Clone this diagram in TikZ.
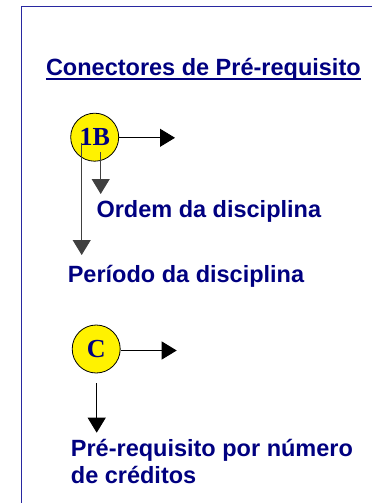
\documentclass[tikz,border=0pt]{standalone}
\usepackage{fontspec}
\usetikzlibrary{arrows.meta}
\newfontfamily\lsans{Liberation Sans}
\newfontfamily\lserif{Liberation Serif}
\definecolor{navytxt}{RGB}{0,0,128}
\definecolor{frameblue}{RGB}{40,40,160}
\tikzset{
  lbl/.style={anchor=base west, inner sep=0pt, text=navytxt,
    font=\lsans\bfseries\fontsize{23.5}{26.7}\selectfont, align=left},
  conn/.style={fill=yellow, circle, draw=black, line width=0.8pt,
    minimum size=48pt, inner sep=0pt, text=navytxt,
    font=\lserif\bfseries\fontsize{26}{26}\selectfont},
  arr/.style={line width=0.9pt, -{Triangle[length=15pt,width=18pt]}},
}
\begin{document}
\begin{tikzpicture}[x=1pt,y=-1pt]
\useasboundingbox (0,0) rectangle (372,503);
% frame
\draw[frameblue, line width=1.5pt] (372,6.5) -- (21.5,6.5) -- (21.5,503);
% title
\node[lbl] (title) at (45.8,75.7) {Conectores de Pré-requisito};
\draw[navytxt, line width=1.5pt] ([yshift=-3.4pt]title.base west) -- ([yshift=-3.4pt]title.base east);
% 1B connector
\node[conn] (b1) at (94.7,137.2) {1B};
\coordinate (b1r) at (175,137.8);
\coordinate (p1s) at (81.7,143);
\coordinate (p1e) at (81.7,255);
\coordinate (o1s) at (100.7,152);
\coordinate (o1e) at (100.7,194);
\draw[arr] (b1.east |- b1r) -- (b1r);
\draw[arr, black!75] (p1s) -- (p1e);
\draw[arr, black!75] (o1s) -- (o1e);
\node[lbl] (ordem) at (96.3,217.3) {Ordem da disciplina};
\node[lbl] (periodo) at (67.6,282.3) {Período da disciplina};
% C connector
\node[conn] (c1) at (96.2,349) {C};
\coordinate (c1r) at (176.7,350.5);
\coordinate (c1s) at (96.7,383.3);
\coordinate (c1e) at (96.7,432.7);
\draw[arr] (c1.east |- c1r) -- (c1r);
\draw[arr] (c1s) -- (c1e);
\node[lbl] (prereq) at (70.7,483.3) {Pré-requisito por número\\de créditos};
\end{tikzpicture}
\end{document}
